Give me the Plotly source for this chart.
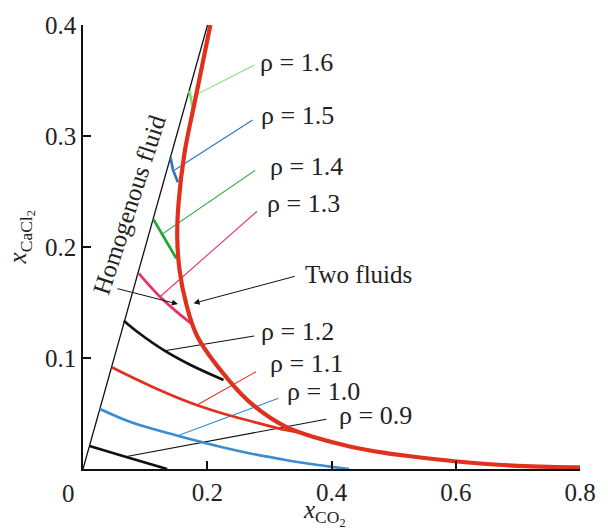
import plotly.graph_objects as go

# ---- data ----
boundary_x = [0.0, 0.2005]
boundary_y = [0.0, 0.40]

binodal_x = [0.205, 0.1816, 0.1633, 0.1538, 0.1517, 0.1554, 0.1659, 0.1843, 0.2367, 0.2735,
             0.326, 0.3785, 0.431, 0.4835, 0.53, 0.598, 0.65, 0.70, 0.75, 0.80]
binodal_y = [0.400, 0.3354, 0.2844, 0.2394, 0.2093, 0.1793, 0.1493, 0.1192, 0.0787, 0.0577,
             0.0381, 0.0276, 0.0201, 0.0147, 0.0113, 0.0070, 0.0045, 0.0029, 0.0020, 0.0015]

rho_labels = ["ρ = 0.9", "ρ = 1.0", "ρ = 1.1", "ρ = 1.2", "ρ = 1.3", "ρ = 1.4", "ρ = 1.5", "ρ = 1.6"]
rho_colors = ["#111111", "#3a8dd0", "#e0301e", "#111111", "#e8306e", "#1aa832", "#2e74c0", "#86dd7d"]

iso_x = [
    [0.0105, 0.0682, 0.1354],
    [0.0273, 0.0787, 0.1523, 0.221, 0.2735, 0.326, 0.3785, 0.4283],
    [0.0462, 0.105, 0.1685, 0.221, 0.2735, 0.326, 0.35],
    [0.0656, 0.09, 0.1312, 0.1732, 0.2262],
    [0.0898, 0.105, 0.1239, 0.15, 0.1737],
    [0.1134, 0.13, 0.1501],
    [0.1407, 0.1449, 0.1528],
    [0.1711, 0.1764],
]
iso_y = [
    [0.0207, 0.0111, 0.0],
    [0.054, 0.0418, 0.0300, 0.0201, 0.0135, 0.0081, 0.0036, 0.0],
    [0.0916, 0.0757, 0.0606, 0.0507, 0.0426, 0.0351, 0.0328],
    [0.1336, 0.1225, 0.1066, 0.0937, 0.0802],
    [0.1763, 0.1665, 0.1552, 0.142, 0.1313],
    [0.2249, 0.209, 0.1898],
    [0.2808, 0.2694, 0.2583],
    [0.3408, 0.3258],
]
iso_shape = ["spline", "spline", "spline", "spline", "spline", "spline", "linear", "linear"]

# leader lines: (label-end x, y) -> (curve x, y)
leader_x0 = [0.3916, 0.3145, 0.2787, 0.2756, 0.280, 0.277, 0.273, 0.276]
leader_y0 = [0.0448, 0.0637, 0.0877, 0.1198, 0.232, 0.269, 0.3144, 0.364]
leader_x1 = [0.0682, 0.1523, 0.1837, 0.1312, 0.1239, 0.1291, 0.1475, 0.1737]
leader_y1 = [0.0111, 0.0300, 0.0577, 0.1066, 0.1552, 0.2123, 0.2694, 0.3348]

label_x = [0.4094, 0.3244, 0.2976, 0.2835, 0.2929, 0.2976, 0.2835, 0.282]
label_y = [0.0486, 0.0694, 0.0946, 0.1243, 0.2396, 0.2721, 0.3189, 0.3658]

x_ticks = [0.2, 0.4, 0.6, 0.8]
y_ticks = [0.1, 0.2, 0.3, 0.4]

FONT = "Liberation Serif, Times New Roman, serif"
TXT = "#222222"

fig = go.Figure()

fig.add_trace(go.Scatter(x=boundary_x, y=boundary_y, mode="lines",
                         line=dict(color="#111111", width=1.3), hoverinfo="skip"))

for i in range(len(rho_labels)):
    fig.add_trace(go.Scatter(x=[leader_x0[i], leader_x1[i]], y=[leader_y0[i], leader_y1[i]],
                             mode="lines", line=dict(color=rho_colors[i], width=1.1),
                             hoverinfo="skip"))
    fig.add_trace(go.Scatter(x=iso_x[i], y=iso_y[i], mode="lines",
                             line=dict(color=rho_colors[i], width=2.7, shape=iso_shape[i],
                                       smoothing=1.0),
                             hoverinfo="skip"))

fig.add_trace(go.Scatter(x=binodal_x, y=binodal_y, mode="lines",
                         line=dict(color="#e0301e", width=4.2, shape="spline", smoothing=1.0),
                         hoverinfo="skip"))

annotations = []
for i in range(len(rho_labels)):
    annotations.append(dict(x=label_x[i], y=label_y[i], text=rho_labels[i], showarrow=False,
                            xanchor="left", yanchor="middle",
                            font=dict(family=FONT, size=26, color=TXT)))

annotations.append(dict(x=0.3543, y=0.1748, text="Two fluids", showarrow=False,
                        xanchor="left", yanchor="middle",
                        font=dict(family=FONT, size=25, color=TXT)))
annotations.append(dict(x=0.074, y=0.2387, text="Homogenous fluid", showarrow=False,
                        textangle=-72, font=dict(family=FONT, size=25, color=TXT)))
# arrows
annotations.append(dict(x=0.178, y=0.1493, ax=0.3433, ay=0.1739, axref="x", ayref="y",
                        text="", showarrow=True, arrowhead=2, arrowsize=1.2, arrowwidth=1,
                        arrowcolor="#111111"))
annotations.append(dict(x=0.1528, y=0.1486, ax=0.0531, ay=0.1628, axref="x", ayref="y",
                        text="", showarrow=True, arrowhead=2, arrowsize=1.2, arrowwidth=1,
                        arrowcolor="#111111"))
# corner zero label
annotations.append(dict(x=0, y=0, text="0", showarrow=False, xanchor="center", yanchor="top",
                        xshift=-15, yshift=-9, font=dict(family=FONT, size=25, color=TXT)))
# axis titles
annotations.append(dict(xref="paper", yref="paper", x=0.486, y=-0.099, xanchor="center",
                        yanchor="middle", showarrow=False,
                        text="<i>x</i><sub>CO<sub>2</sub></sub>",
                        font=dict(family=FONT, size=25, color=TXT)))
annotations.append(dict(xref="paper", yref="paper", x=-0.124, y=0.5225, xanchor="center",
                        yanchor="middle", showarrow=False, textangle=-90,
                        text="<i>x</i><sub>CaCl<sub>2</sub></sub>",
                        font=dict(family=FONT, size=25, color=TXT)))

fig.update_layout(
    width=608, height=532,
    margin=dict(l=83, r=17, t=25, b=63),
    paper_bgcolor="white", plot_bgcolor="white",
    showlegend=False,
    annotations=annotations,
    xaxis=dict(range=[0, 0.8], tickvals=x_ticks, ticktext=["0.2", "0.4", "0.6", "0.8"],
               showgrid=False, zeroline=False, showline=True, linecolor="#111111",
               linewidth=1.5, ticks="inside", ticklen=8, tickwidth=1.5, tickcolor="#111111",
               tickfont=dict(family=FONT, size=25, color=TXT)),
    yaxis=dict(range=[0, 0.4], tickvals=y_ticks, ticktext=["0.1", "0.2", "0.3", "0.4"],
               showgrid=False, zeroline=False, showline=True, linecolor="#111111",
               linewidth=1.5, ticks="inside", ticklen=8, tickwidth=1.5, tickcolor="#111111",
               tickfont=dict(family=FONT, size=25, color=TXT)),
)

fig.write_html("out.html")
